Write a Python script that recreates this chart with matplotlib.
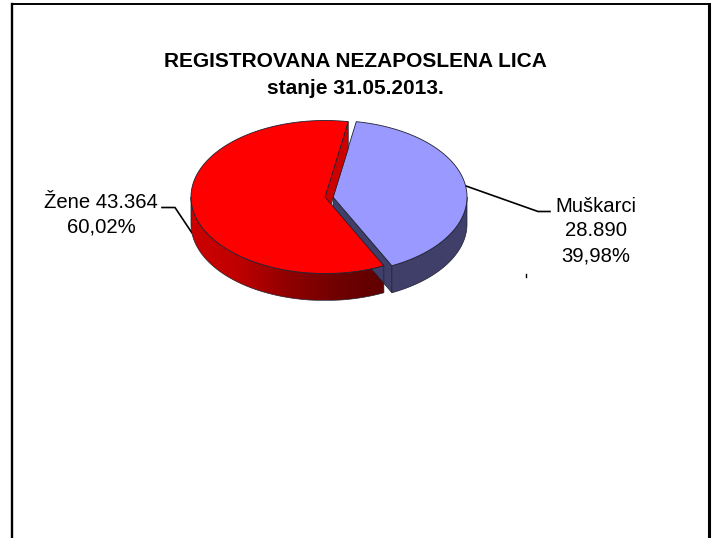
import numpy as np
import matplotlib
matplotlib.use('Agg')
import matplotlib.pyplot as plt
from matplotlib.colors import LinearSegmentedColormap
from matplotlib.patches import Polygon

plt.rcParams['font.family'] = ['Liberation Sans', 'DejaVu Sans']

TITLE = "REGISTROVANA NEZAPOSLENA LICA\nstanje 31.05.2013."
men = 28890
women = 43364
men_label = "Muškarci\n28.890\n39,98%"
women_label = "Žene 43.364\n60,02%"

W, H = 714, 538
START = 80.0  # kut gornjeg ruba plavog isječka
RX, RY = 134.0, 76.5
DEPTH = 27
EDGE = '#202030'

fig = plt.figure(figsize=(W / 100, H / 100), dpi=100)
ax = fig.add_axes([0, 0, 1, 1])


def rim(cx, cy, deg):
    t = np.radians(deg)
    return np.column_stack([cx + RX * np.cos(t), cy - RY * np.sin(t)])


def shift(pts):
    return pts + np.array([0, DEPTH])


def side(cx, cy, a, b, color=None, cmap=None):
    """bočna strana isječka, od kuta a do kuta b"""
    arc = rim(cx, cy, np.linspace(a, b, 200))
    pts = np.vstack([arc, shift(arc)[::-1]])
    patch = Polygon(pts, fc=color if color else 'none', ec=EDGE, lw=0.5, zorder=3)
    ax.add_patch(patch)
    if cmap is not None:
        grad = np.linspace(0, 1, 256).reshape(1, -1)
        x0, x1 = pts[:, 0].min(), pts[:, 0].max()
        y0, y1 = pts[:, 1].min(), pts[:, 1].max()
        im = ax.imshow(grad, cmap=cmap, extent=[x0, x1, y1, y0], aspect='auto', zorder=2.9)
        im.set_clip_path(patch)


def face(cx, cy, a, b, color):
    arc = rim(cx, cy, np.linspace(a, b, 200))
    pts = np.vstack([[[cx, cy]], arc])
    ax.add_patch(Polygon(pts, fc=color, ec=EDGE, lw=0.6, zorder=3))


def cut(cx, cy, deg, color):
    p = rim(cx, cy, np.array([deg]))
    c = np.array([[cx, cy]])
    pts = np.vstack([c, p, shift(p), shift(c)])
    ax.add_patch(Polygon(pts, fc=color, ec=EDGE, lw=0.5, zorder=3))


men_deg = 360 * men / (men + women)
men_end = START - men_deg

# plavi isječak
blue_c = (333.0, 197.0)
cut(*blue_c, men_end, '#3F3F69')
side(*blue_c, men_end, 0, color='#3F3F69')
face(*blue_c, men_end, START, '#9999FF')

# crveni isječak
red_c = (325.0, 197.0)
cut(*red_c, START, '#CC0000')
reds = LinearSegmentedColormap.from_list(
    'reds3d', [(0, '#CC0000'), (0.24, '#C00000'), (0.5, '#900000'), (0.76, '#700000'), (1, '#600000')])
side(*red_c, 180, 360 + men_end, cmap=reds)
face(*red_c, START, 360 + men_end, '#FF0000')

# linije do oznaka
ax.plot([192, 175, 162], [233, 207.5, 207.5], color='black', lw=1.2, zorder=2)
ax.plot([466, 538, 550], [186, 211.5, 211.5], color='black', lw=1.2, zorder=2)
ax.plot([525.5, 525.5], [273.5, 277], color='black', lw=1.0)

ax.text(355, 75, TITLE, ha='center', va='center', fontsize=15, fontweight='bold',
        linespacing=1.48, color='black')
ax.text(101, 215, women_label, ha='center', va='center', fontsize=14.6, linespacing=1.36)
ax.text(595.5, 231, men_label, ha='center', va='center', fontsize=14.6, linespacing=1.38)

# okvir, bez donje ivice
ax.plot([12.2, 12.2], [H, 3.6], color='black', lw=1.7, solid_capstyle='projecting')
ax.plot([12.2, 708.5], [3.6, 3.6], color='black', lw=1.4, solid_capstyle='projecting')
ax.plot([708.5, 708.5], [3.6, H], color='black', lw=2.2, solid_capstyle='projecting')

ax.set_xlim(0, W)
ax.set_ylim(H, 0)
ax.axis('off')

fig.savefig('out.png', dpi=100)
